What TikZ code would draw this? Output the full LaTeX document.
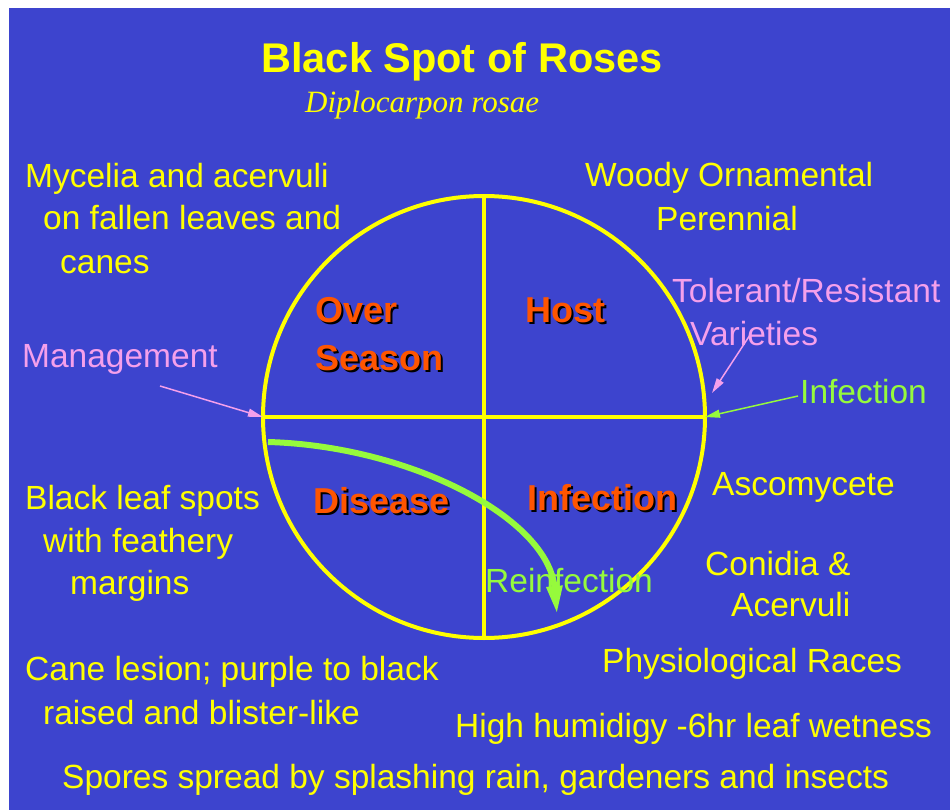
\documentclass[tikz,border=0pt]{standalone}
\usepackage{fontspec}
\setmainfont{Liberation Sans}
\newfontfamily\latinfont{Liberation Serif}
\usetikzlibrary{arrows.meta}
\definecolor{bsblue}{RGB}{61,68,206}
\definecolor{bsyellow}{RGB}{255,255,0}
\definecolor{bsorange}{RGB}{255,85,0}
\definecolor{bspink}{RGB}{245,160,235}
\definecolor{bsgreen}{RGB}{150,250,60}
\newcommand\qshadow[1]{\rlap{\kern2pt\raisebox{-2pt}{\color{black}#1}}#1}

\begin{document}
\begin{tikzpicture}[x=1pt, y=-1pt,
  txt/.style={anchor=base west, inner sep=0pt, font=\fontsize{33.5}{40}\selectfont},
  quad/.style={anchor=base west, inner sep=0pt, text=bsorange, font=\bfseries\fontsize{36}{43}\selectfont},
  thinarrow/.style={line width=1.5pt, -{Triangle[length=15pt,width=8pt]}}]
\useasboundingbox (0,0) rectangle (950,810);
\fill[white] (0,0) rectangle (950,810);
\fill[bsblue] (9,8) rectangle (950,810);
% title
\node[anchor=base, inner sep=0pt, text=bsyellow,
  font=\bfseries\fontsize{41.5}{48}\selectfont] (title) at (462,73) {Black Spot of Roses};
\node[anchor=base west, inner sep=0pt, text=bsyellow,
  font=\latinfont\itshape\fontsize{31}{36}\selectfont] (latin) at (305,113) {Diplocarpon rosae};
% the circle and its quarters
\coordinate (c) at (484,417);
\coordinate (cl) at (263,417);
\coordinate (cr) at (705,417);
\coordinate (ct) at (484,196);
\coordinate (cb) at (484,638);
\draw[bsyellow, line width=4pt] (c) circle[radius=221pt];
\draw[bsyellow, line width=4pt] (cl) -- (cr);
\draw[bsyellow, line width=4pt] (ct) -- (cb);
\foreach \n/\x/\y/\t in {over/315/322/Over, season/315/370/Season, host/525/322/Host,
    disease/313/513/Disease, infect/527/510/Infection}
  \node[quad] (\n) at (\x,\y) {\qshadow{\t}};
% yellow notes
\foreach \n/\x/\y/\t in {m1/25/188/{Mycelia and acervuli}, m2/43/230/{on fallen leaves and},
    m3/60/273/canes, w1/585/187/{Woody Ornamental}, w2/656/231/Perennial,
    b1/25/509/{Black leaf spots}, b2/43/552/{with feathery}, b3/70/594/margins,
    c1/25/680/{Cane lesion; purple to black}, c2/43/724/{raised and blister-like},
    a1/712/495/Ascomycete, k1/705/575/{Conidia \&}, k2/731/616/Acervuli,
    p1/602/672/{Physiological Races}, h1/455/737/{High humidigy -6hr leaf wetness},
    s1/62/788/{Spores spread by splashing rain, gardeners and insects}}
  \node[txt, text=bsyellow] (\n) at (\x,\y) {\t};
% pink and green notes
\node[txt, text=bspink] (mgmt) at (22,367) {Management};
\node[txt, text=bspink] (tol) at (672,302) {Tolerant/Resistant};
\node[txt, text=bspink] (var) at (690,345) {Varieties};
\node[txt, text=bsgreen] (inf) at (800,403) {Infection};
\node[txt, text=bsgreen] (reinf) at (485,592) {Reinfection};
% arrows
\coordinate (mgmt-tail) at (160,386);
\coordinate (var-tail) at (750,335);
\coordinate (var-tip) at (712,393);
\coordinate (inf-tail) at (798,396);
\coordinate (re-start) at (268,442);
\coordinate (re-tip) at (557,614);
\draw[thinarrow, bspink] (mgmt-tail) -- (cl);
\draw[thinarrow, bspink] (var-tail) -- (var-tip);
\draw[thinarrow, bsgreen] (inf-tail) -- (cr);
\draw[bsgreen, line width=6pt, -{Triangle[length=28pt,width=15pt]}]
  (re-start) .. controls (410,446) and (548,518) .. (re-tip);
\end{tikzpicture}
\end{document}
